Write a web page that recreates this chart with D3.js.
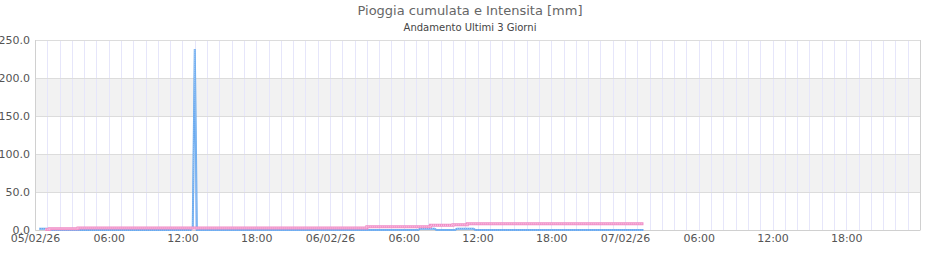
<!DOCTYPE html>
<html>
<head>
<meta charset="utf-8">
<script src="https://cdn.jsdelivr.net/npm/d3@7"></script>
<style>
  body { margin: 0; background: #fff; }
  svg text { font-family: "DejaVu Sans", sans-serif; }
</style>
</head>
<body>
<div id="chart"></div>
<script>
// Pioggia cumulata (step) e intensita, ultimi 3 giorni
const cumTimes  = ['2026-02-05T00:50', '2026-02-05T01:10', '2026-02-05T03:30', '2026-02-06T03:00', '2026-02-06T08:10', '2026-02-06T10:00', '2026-02-06T11:10', '2026-02-07T01:30'];
const cumValues = [0.5, 1.5, 2.6, 4.4, 6.2, 7.0, 8.3, 8.3];

const intTimes  = ['2026-02-05T00:20', '2026-02-05T01:00', '2026-02-05T01:10', '2026-02-05T12:40', '2026-02-05T12:50', '2026-02-05T13:00', '2026-02-05T13:10',
                   '2026-02-06T07:10', '2026-02-06T07:20', '2026-02-06T08:30', '2026-02-06T08:40',
                   '2026-02-06T10:10', '2026-02-06T10:20', '2026-02-06T11:40', '2026-02-06T11:50', '2026-02-07T01:30'];
const intValues = [1.5, 1.5, 0, 0, 3, 238, 0, 0, 1.8, 1.8, 0, 0, 1.8, 1.8, 0, 0];

const yTicks = [0, 50, 100, 150, 200, 250];
const xStart = '2026-02-05T00:00', xEnd = '2026-02-08T00:00';

const W = 940, H = 260;
const margin = { top: 40, right: 20, bottom: 30, left: 35 };
const parse = d3.timeParse('%Y-%m-%dT%H:%M');

const svg = d3.select('#chart').append('svg').attr('width', W).attr('height', H);

const x = d3.scaleTime().domain([parse(xStart), parse(xEnd)]).range([margin.left, W - margin.right]);
const y = d3.scaleLinear().domain([0, 250]).range([H - margin.bottom, margin.top]);

// bande alternate
for (let i = 0; i < yTicks.length - 1; i++) {
  if (i % 2 === 1) {
    svg.append('rect')
      .attr('x', margin.left).attr('width', W - margin.right - margin.left)
      .attr('y', y(yTicks[i + 1])).attr('height', y(yTicks[i]) - y(yTicks[i + 1]))
      .attr('fill', '#f2f2f2');
  }
}

// griglia verticale oraria
svg.append('g')
  .selectAll('line')
  .data(x.ticks(d3.timeHour.every(1)))
  .enter().append('line')
  .attr('x1', d => Math.round(x(d)) + 0.5).attr('x2', d => Math.round(x(d)) + 0.5)
  .attr('y1', margin.top).attr('y2', H - margin.bottom)
  .attr('stroke', '#e6e6fa').attr('stroke-width', 1);

// griglia orizzontale
svg.append('g')
  .selectAll('line')
  .data(yTicks)
  .enter().append('line')
  .attr('x1', margin.left).attr('x2', W - margin.right)
  .attr('y1', d => Math.round(y(d)) + 0.5).attr('y2', d => Math.round(y(d)) + 0.5)
  .attr('stroke', '#dcdcdc');

// bordo
svg.append('line').attr('x1', margin.left + 0.5).attr('x2', margin.left + 0.5)
  .attr('y1', margin.top).attr('y2', H - margin.bottom).attr('stroke', '#d0d0d0');
svg.append('line').attr('x1', W - margin.right + 0.5).attr('x2', W - margin.right + 0.5)
  .attr('y1', margin.top).attr('y2', H - margin.bottom).attr('stroke', '#d0d0d0');

// assi
const yAxis = svg.append('g')
  .attr('transform', `translate(${margin.left},0)`)
  .call(d3.axisLeft(y).tickValues(yTicks).tickSize(0).tickPadding(5).tickFormat(d3.format('.1f')));
yAxis.select('.domain').remove();
yAxis.selectAll('text').attr('fill', '#555').attr('font-size', 11);

const fmtTick = d => d.getHours() === 0 ? d3.timeFormat('%d/%m/%y')(d) : d3.timeFormat('%H:%M')(d);
const xTickVals = x.ticks(d3.timeHour.every(6)).filter(d => d < parse(xEnd));
const xAxis = svg.append('g')
  .attr('transform', `translate(0,${H - margin.bottom})`)
  .call(d3.axisBottom(x).tickValues(xTickVals).tickSize(0).tickPadding(4).tickFormat(fmtTick));
xAxis.select('.domain').attr('stroke', '#d0d0d0');
xAxis.selectAll('text').attr('fill', '#555').attr('font-size', 11);

// serie
const cumData = cumTimes.map((t, i) => ({ t: parse(t), v: cumValues[i] }));
const intData = intTimes.map((t, i) => ({ t: parse(t), v: intValues[i] }));

const stepLine = d3.line().x(d => x(d.t)).y(d => y(d.v)).curve(d3.curveStepAfter);
const linLine = d3.line().x(d => x(d.t)).y(d => y(d.v));

svg.append('path').datum(intData).attr('d', linLine)
  .attr('fill', 'none').attr('stroke', '#62a6ef').attr('stroke-width', 2);
svg.append('path').datum(intData).attr('d', linLine)
  .attr('fill', 'none').attr('stroke', '#a9cdf6').attr('stroke-width', 1).attr('stroke-dasharray', '1,1');

svg.append('path').datum(cumData).attr('d', stepLine)
  .attr('fill', 'none').attr('stroke', '#f08cc6').attr('stroke-width', 3);
svg.append('path').datum(cumData).attr('d', stepLine)
  .attr('fill', 'none').attr('stroke', '#f8c0e0').attr('stroke-width', 1.5).attr('stroke-dasharray', '1,1');

// titoli
svg.append('text').attr('x', W / 2).attr('y', 15).attr('text-anchor', 'middle')
  .attr('font-size', 13).attr('fill', '#666').text('Pioggia cumulata e Intensita [mm]');
svg.append('text').attr('x', W / 2).attr('y', 31).attr('text-anchor', 'middle')
  .attr('font-size', 10).attr('fill', '#444').text('Andamento Ultimi 3 Giorni');
</script>
</body>
</html>
